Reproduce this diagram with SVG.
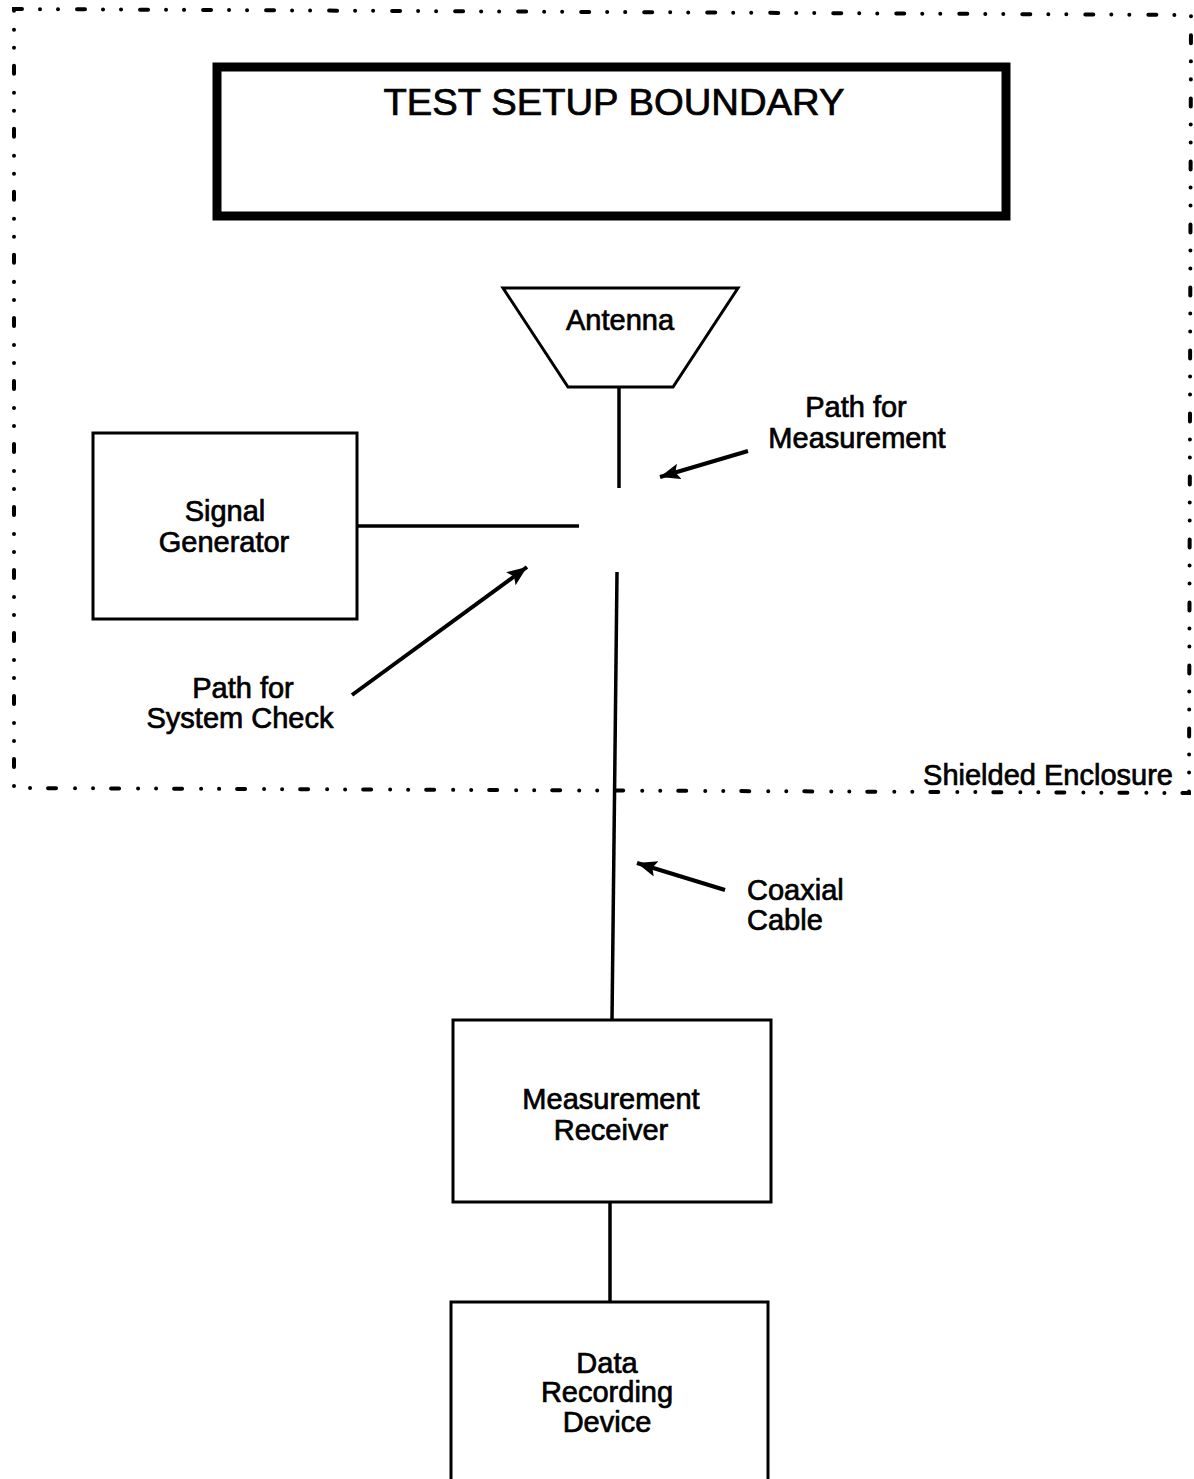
<svg xmlns="http://www.w3.org/2000/svg" width="1194" height="1479" viewBox="0 0 1194 1479">
<defs>
<marker id="ah" markerUnits="userSpaceOnUse" markerWidth="24" markerHeight="20" refX="20" refY="8" orient="auto">
<path d="M0,0 L20,8 L0,16 L4,8 Z" fill="#000"/>
</marker>
</defs>
<style>
.box{fill:#fff;stroke:#000;stroke-width:3}
.ln{fill:none;stroke:#000;stroke-width:3.5}
.arr{fill:none;stroke:#000;stroke-width:4;marker-end:url(#ah)}
.t{font-family:"Liberation Sans",Arial,sans-serif;font-size:29px;fill:#000;stroke:#000;stroke-width:0.7;text-anchor:middle}
.border{fill:none;stroke:#000;stroke-width:4;stroke-linecap:round;stroke-dasharray:8 18 0.01 18 0.01 19}
</style>
<rect width="1194" height="1479" fill="#fff"/>
<g id="shielded-enclosure">
<path class="border" d="M14,9 L1191,15 L1189,793 L14,788 Z"/>
<text class="t" x="1048" y="785">Shielded Enclosure</text>
</g>
<g id="test-setup-boundary">
<rect x="217" y="67" width="789" height="149" fill="#fff" stroke="#000" stroke-width="9"/>
<text class="t" x="614" y="115" style="font-size:37px" textLength="461" lengthAdjust="spacingAndGlyphs">TEST SETUP BOUNDARY</text>
</g>
<g id="connectors">
<line class="ln" x1="619" y1="387" x2="619" y2="488"/>
<line class="ln" x1="357" y1="526" x2="579" y2="526"/>
<line class="ln" x1="617" y1="572" x2="612" y2="1021"/>
<line class="ln" x1="610" y1="1202" x2="610" y2="1302"/>
<line class="arr" x1="748" y1="451" x2="660" y2="477"/>
<line class="arr" x1="352" y1="695" x2="527" y2="567"/>
<line class="arr" x1="725" y1="890" x2="637" y2="863"/>
</g>
<g id="antenna">
<polygon class="box" points="503,288 738,288 673,387 568,387"/>
<text class="t" x="620" y="330">Antenna</text>
</g>
<g id="signal-generator">
<rect class="box" x="93" y="433" width="264" height="186"/>
<text class="t" x="225" y="521">Signal</text>
<text class="t" x="224" y="552">Generator</text>
</g>
<g id="label-path-measurement">
<text class="t" x="856" y="417">Path for</text>
<text class="t" x="857" y="448">Measurement</text>
</g>
<g id="label-path-system-check">
<text class="t" x="243" y="698">Path for</text>
<text class="t" x="240" y="728">System Check</text>
</g>
<g id="label-coaxial-cable">
<text class="t" x="747" y="900" style="text-anchor:start">Coaxial</text>
<text class="t" x="747" y="930" style="text-anchor:start">Cable</text>
</g>
<g id="measurement-receiver">
<rect class="box" x="453" y="1020" width="318" height="182"/>
<text class="t" x="611" y="1109">Measurement</text>
<text class="t" x="611" y="1140">Receiver</text>
</g>
<g id="data-recording-device">
<rect class="box" x="451" y="1302" width="317" height="200"/>
<text class="t" x="607" y="1373">Data</text>
<text class="t" x="607" y="1402">Recording</text>
<text class="t" x="607" y="1432">Device</text>
</g>
</svg>
